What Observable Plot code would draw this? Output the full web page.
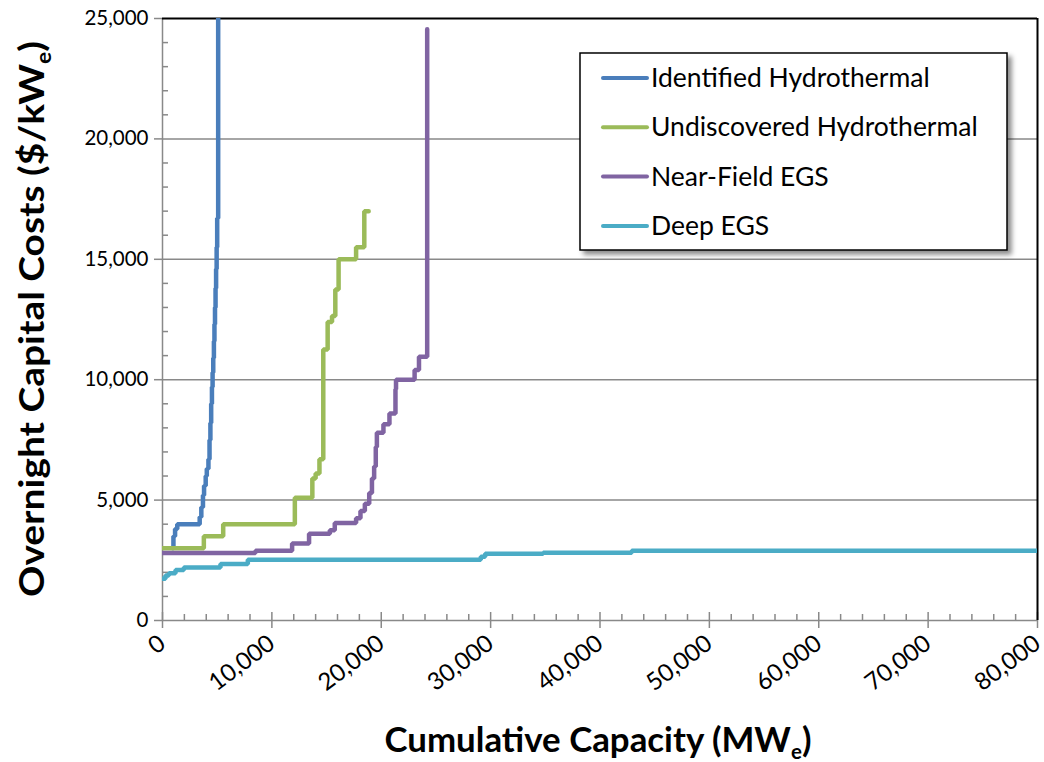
<!DOCTYPE html>
<html><head><meta charset="utf-8">
<script src="https://cdn.jsdelivr.net/npm/d3@7"></script>
<script src="https://cdn.jsdelivr.net/npm/@observablehq/plot@0.6"></script>
<style>body{margin:0;background:#fff} #chart{width:1044px;height:762px}</style>
</head><body><div id="chart"></div>
<script>
const seriesNames = ["Identified Hydrothermal","Undiscovered Hydrothermal","Near-Field EGS","Deep EGS"];
const seriesColors = ["#4a7ebb","#9bbb59","#8064a2","#4bacc6"];

// cumulative capacity (MWe) at start of each supply step, and its overnight cost ($/kWe)
const identifiedCapacity = [950,1000,1150,1350,3400,3550,3700,3800,3950,4050,4200,4300,4380,4450,4520,4580,4640,4700,4750,4800,4850,4900,4950,5000,5090];
const identifiedCost     = [3000,3500,3800,4000,4300,4700,5200,5600,6000,6300,6700,7500,8200,9000,9700,10300,10900,11600,12300,13000,13800,14600,15500,16700,25000];

const undiscoveredCapacity = [0,3780,5550,12100,13700,14000,14350,14700,15100,15500,15800,16100,17700,18450,18850];
const undiscoveredCost     = [3000,3500,4000,5100,5900,6100,6700,11250,12400,12650,13750,15000,15500,17000,17000];

const nearFieldCapacity = [0,8500,11850,13400,15300,15750,17700,18100,18500,18900,19150,19350,19500,19600,20200,20750,21300,21350,23050,23450,24200];
const nearFieldCost     = [2800,2900,3200,3600,3750,4050,4250,4550,4850,5300,5900,6400,7200,7800,8150,8600,9600,10000,10400,10950,24550];

const deepCapacity = [0,270,580,1190,1950,5300,7800,29100,29500,34800,42900,80000];
const deepCost     = [1730,1870,1960,2100,2200,2350,2520,2650,2770,2810,2900,2900];

const yTicks = [0,5000,10000,15000,20000,25000];
const yMinorTicks = [1000,2000,3000,4000,6000,7000,8000,9000,11000,12000,13000,14000,16000,17000,18000,19000,21000,22000,23000,24000];
const xTicks = [0,10000,20000,30000,40000,50000,60000,70000,80000];
const xMinorTicks = [2000,4000,6000,8000,12000,14000,16000,18000,22000,24000,26000,28000,32000,34000,36000,38000,42000,44000,46000,48000,52000,54000,56000,58000,62000,64000,66000,68000,72000,74000,76000,78000];

const seriesCapacity = [identifiedCapacity, undiscoveredCapacity, nearFieldCapacity, deepCapacity];
const seriesCost = [identifiedCost, undiscoveredCost, nearFieldCost, deepCost];
const rows = seriesNames.flatMap((s, i) => seriesCapacity[i].map((x, j) => ({series: s, x, y: seriesCost[i][j]})));

const gray = "#898989";
const fmt = d3.format(",");
const noText = () => "";

const plot = Plot.plot({
  width: 1044, height: 762,
  marginLeft: 162, marginRight: 7, marginTop: 18, marginBottom: 142,
  style: {fontFamily: "Lato, sans-serif", fontSize: "20px", color: "#000", background: "#fff"},
  x: {domain: [0, 80000]},
  y: {domain: [0, 25000]},
  color: {domain: seriesNames, range: seriesColors},
  marks: [
    Plot.ruleY(yTicks.filter(d => d > 0 && d < 25000), {stroke: gray, strokeWidth: 1.5}),
    Plot.axisY({ticks: yTicks, tickSize: 8, tickPadding: 6, tickFormat: fmt, stroke: gray, strokeWidth: 1.5, fill: "#000", label: null, fontSize: 20.5}),
    Plot.axisY({ticks: yMinorTicks, tickSize: 6, dx: 6, tickFormat: noText, stroke: gray, strokeWidth: 1.5, label: null}),
    Plot.axisX({ticks: xTicks, tickSize: 16, dy: -8, tickFormat: noText, stroke: gray, strokeWidth: 1.5, label: null}),
    Plot.axisX({ticks: xMinorTicks, tickSize: 6, dy: -6, tickFormat: noText, stroke: gray, strokeWidth: 1.5, label: null}),
    Plot.axisX({ticks: xTicks, tickSize: 0, tickPadding: 20, tickRotate: -37, tickFormat: fmt, fill: "#000", label: null, fontSize: 24}),
    Plot.ruleX([0], {stroke: gray, strokeWidth: 1.5}),
    Plot.ruleY([0], {stroke: gray, strokeWidth: 1.5}),
    Plot.ruleY([25000], {stroke: "#000", strokeWidth: 2}),
    Plot.ruleX([80000], {stroke: "#000", strokeWidth: 2}),
    Plot.line(rows, {x: "x", y: "y", z: "series", stroke: "series", curve: "step-after", strokeWidth: 4.5, strokeLinejoin: "miter", strokeLinecap: "round", clip: true})
  ]
});
document.getElementById("chart").appendChild(plot);

const svg = d3.select(plot);
const defs = svg.append("defs");
const f = defs.append("filter").attr("id", "shadow").attr("x", "-10%").attr("y", "-10%").attr("width", "130%").attr("height", "130%");
f.append("feDropShadow").attr("dx", 4).attr("dy", 4).attr("stdDeviation", 2.5).attr("flood-color", "#000").attr("flood-opacity", 0.45);

// axis titles
const yt = svg.append("text").attr("transform", "translate(44,319) rotate(-90)")
  .attr("text-anchor", "middle").attr("font-family", "Lato, sans-serif").attr("font-weight", "bold").attr("font-size", 34).attr("fill", "#000")
  .attr("textLength", 556).attr("lengthAdjust", "spacingAndGlyphs");
yt.append("tspan").text("Overnight Capital Costs ($/kW");
yt.append("tspan").attr("font-size", 20).attr("dy", 7).text("e");
yt.append("tspan").attr("dy", -7).text(")");

const xt = svg.append("text").attr("x", 598).attr("y", 752)
  .attr("text-anchor", "middle").attr("font-family", "Lato, sans-serif").attr("font-weight", "bold").attr("font-size", 34).attr("fill", "#000")
  .attr("textLength", 427).attr("lengthAdjust", "spacingAndGlyphs");
xt.append("tspan").text("Cumulative Capacity (MW");
xt.append("tspan").attr("font-size", 20).attr("dy", 7).text("e");
xt.append("tspan").attr("dy", -7).text(")");

// legend
const lg = svg.append("g").attr("transform", "translate(580,53)");
lg.append("rect").attr("width", 427).attr("height", 197).attr("fill", "#fff").attr("stroke", "#000").attr("stroke-width", 1.5).attr("filter", "url(#shadow)");
seriesNames.forEach((s, i) => {
  const yy = 25 + i * 49.3;
  lg.append("line").attr("x1", 23).attr("x2", 67).attr("y1", yy).attr("y2", yy)
    .attr("stroke", seriesColors[i]).attr("stroke-width", 4).attr("stroke-linecap", "round");
  lg.append("text").attr("x", 71).attr("y", yy + 9).attr("text-anchor", "start").attr("font-family", "Lato, sans-serif").attr("font-size", 26.5).attr("fill", "#000").text(s);
});
</script>
</body></html>
